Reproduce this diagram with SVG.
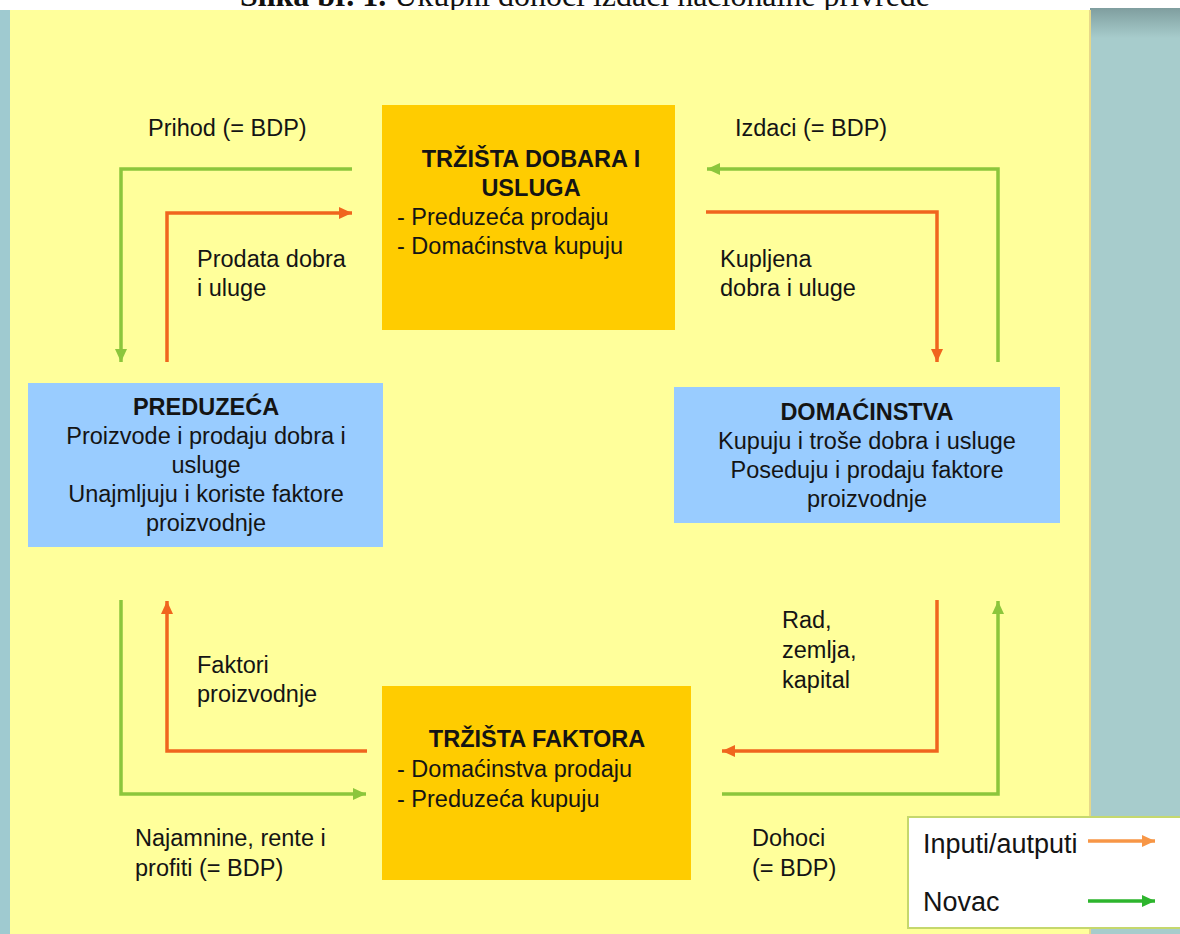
<svg xmlns="http://www.w3.org/2000/svg" width="1180" height="934" viewBox="0 0 1180 934">
<defs>
<style>
text{font-family:"Liberation Sans",Arial,sans-serif;font-size:23.5px;fill:#141414}
.b{font-weight:bold}
.c{text-anchor:middle}
.lg{font-size:27px}
.title{font-family:"Liberation Serif","Times New Roman",serif;font-size:32px;fill:#111}
.og{fill:none;stroke:#f0651e;stroke-width:3.5}
.gr{fill:none;stroke:#8cc63c;stroke-width:3.5}
.box-o{fill:#ffcc00}
.box-b{fill:#99ccff}
</style>
<marker id="ao" markerUnits="userSpaceOnUse" markerWidth="14" markerHeight="12" refX="13" refY="6" orient="auto"><path d="M0,0 L13,6 L0,12 z" fill="#f0651e"/></marker>
<marker id="ag" markerUnits="userSpaceOnUse" markerWidth="14" markerHeight="12" refX="13" refY="6" orient="auto"><path d="M0,0 L13,6 L0,12 z" fill="#8cc63c"/></marker>
<marker id="alo" markerUnits="userSpaceOnUse" markerWidth="14" markerHeight="12" refX="13" refY="6" orient="auto"><path d="M0,0 L13,6 L0,12 z" fill="#f79646"/></marker>
<marker id="alg" markerUnits="userSpaceOnUse" markerWidth="14" markerHeight="12" refX="13" refY="6" orient="auto"><path d="M0,0 L13,6 L0,12 z" fill="#2db52d"/></marker>
<linearGradient id="tg" x1="0" y1="0" x2="0" y2="1"><stop offset="0" stop-color="#7f9e9f"/><stop offset="1" stop-color="#a7cccc"/></linearGradient>
</defs>
<rect x="0" y="0" width="1180" height="934" fill="#ffffff"/>
<text class="title" x="240" y="6" textLength="690"><tspan font-weight="bold">Slika br. 1.</tspan>  Ukupni dohoci izdaci nacionalne privrede</text>
<g id="background">
<rect x="0" y="10" width="10" height="924" fill="#9fcad0"/>
<rect x="10" y="10" width="1080" height="924" fill="#ffff9b"/>
<rect x="1090" y="8" width="90" height="926" fill="#a7cccc"/>
<rect x="1090" y="8" width="90" height="30" fill="url(#tg)"/>
<line x1="1090" y1="10" x2="1090" y2="934" stroke="#e6d88a" stroke-width="2"/>
</g>
<g id="connectors">
<path class="gr" d="M352,169 H121 V362" marker-end="url(#ag)"/>
<path class="og" d="M167,362 V213 H352" marker-end="url(#ao)"/>
<path class="gr" d="M998,362 V169 H707" marker-end="url(#ag)"/>
<path class="og" d="M706,212 H937 V362" marker-end="url(#ao)"/>
<path class="gr" d="M121,600 V794 H366" marker-end="url(#ag)"/>
<path class="og" d="M367,751 H167 V601" marker-end="url(#ao)"/>
<path class="og" d="M937,600 V751 H722" marker-end="url(#ao)"/>
<path class="gr" d="M722,794 H998 V601" marker-end="url(#ag)"/>
</g>
<g id="node-trzista-dobara">
<rect class="box-o" x="382" y="105" width="293" height="225"/>
<text class="b c" x="531" y="167">TRŽIŠTA DOBARA I</text>
<text class="b c" x="531" y="196">USLUGA</text>
<text x="397" y="225">- Preduzeća prodaju</text>
<text x="397" y="254">- Domaćinstva kupuju</text>
</g>
<g id="node-trzista-faktora">
<rect class="box-o" x="382" y="686" width="309" height="194"/>
<text class="b c" x="537" y="747">TRŽIŠTA FAKTORA</text>
<text x="397" y="777">- Domaćinstva prodaju</text>
<text x="397" y="807">- Preduzeća kupuju</text>
</g>
<g id="node-preduzeca">
<rect class="box-b" x="28" y="383" width="355" height="164"/>
<text class="b c" x="206" y="415">PREDUZEĆA</text>
<text class="c" x="206" y="444">Proizvode i prodaju dobra i</text>
<text class="c" x="206" y="473">usluge</text>
<text class="c" x="206" y="502">Unajmljuju i koriste faktore</text>
<text class="c" x="206" y="531">proizvodnje</text>
</g>
<g id="node-domacinstva">
<rect class="box-b" x="674" y="387" width="386" height="136"/>
<text class="b c" x="867" y="420">DOMAĆINSTVA</text>
<text class="c" x="867" y="449">Kupuju i troše dobra i usluge</text>
<text class="c" x="867" y="478">Poseduju i prodaju faktore</text>
<text class="c" x="867" y="507">proizvodnje</text>
</g>
<g id="labels">
<text x="148" y="136">Prihod (= BDP)</text>
<text x="735" y="136">Izdaci (= BDP)</text>
<text x="197" y="267">Prodata dobra</text>
<text x="197" y="296">i uluge</text>
<text x="720" y="267">Kupljena</text>
<text x="720" y="296">dobra i uluge</text>
<text x="197" y="673">Faktori</text>
<text x="197" y="702">proizvodnje</text>
<text x="782" y="628">Rad,</text>
<text x="782" y="658">zemlja,</text>
<text x="782" y="688">kapital</text>
<text x="135" y="846">Najamnine, rente i</text>
<text x="135" y="876">profiti (= BDP)</text>
<text x="752" y="846">Dohoci</text>
<text x="752" y="876">(= BDP)</text>
</g>
<g id="legend">
<rect x="908" y="817" width="290" height="111" fill="#ffffff" stroke="#c5d86d" stroke-width="2"/>
<text class="lg" x="923" y="853">Inputi/autputi</text>
<text class="lg" x="923" y="911">Novac</text>
<line x1="1088" y1="841" x2="1155" y2="841" stroke="#f79646" stroke-width="3.5" marker-end="url(#alo)"/>
<line x1="1088" y1="901" x2="1155" y2="901" stroke="#2db52d" stroke-width="3.5" marker-end="url(#alg)"/>
</g>
</svg>
